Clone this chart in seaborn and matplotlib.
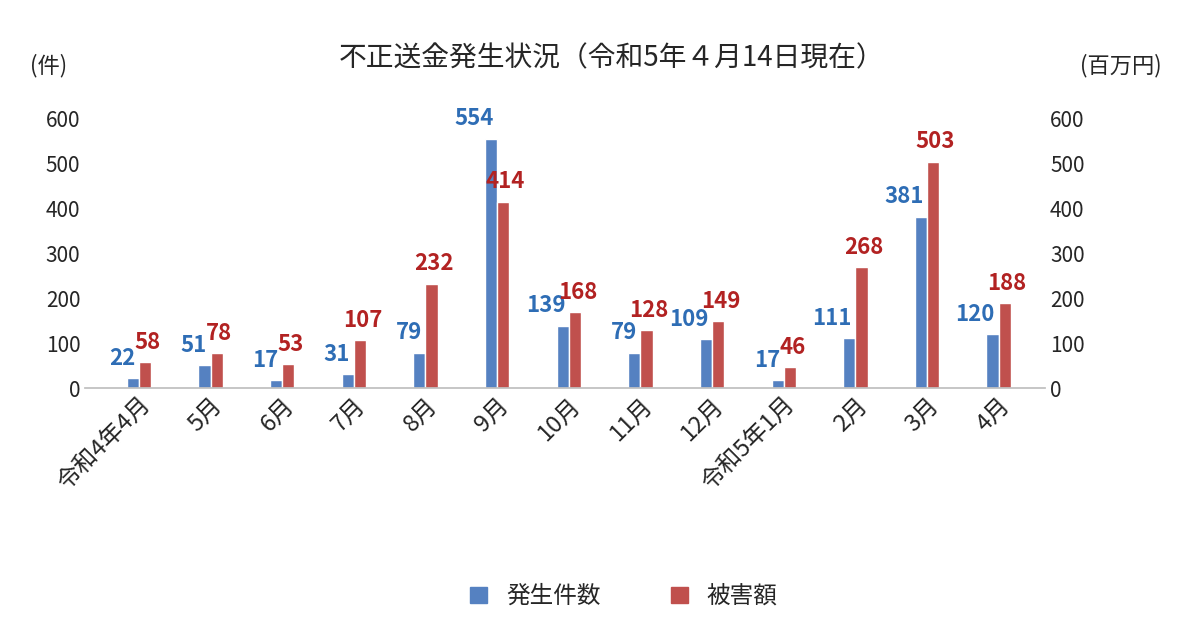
import matplotlib
matplotlib.use("Agg")
import matplotlib.pyplot as plt
import seaborn as sns
import pandas as pd

months = ["令和4年4月","5月","6月","7月","8月","9月","10月","11月","12月","令和5年1月","2月","3月","4月"]
counts = [22,51,17,31,79,554,139,79,109,17,111,381,120]
damage = [58,78,53,107,232,414,168,128,149,46,268,503,188]
series = ["発生件数","被害額"]
bar_colors = ["#5581C1","#C0504D"]
label_colors = ["#2E6DB5","#B22222"]

sns.set_theme(style="white")
plt.rcParams['font.family'] = ['Noto Sans CJK JP','DejaVu Sans']

df = pd.DataFrame({"month": months*2, "value": counts+damage,
                   "series": [series[0]]*len(months)+[series[1]]*len(months)})

fig = plt.figure(figsize=(12,6.28), dpi=100)
ax = fig.add_axes([0.071,0.382,0.80,0.43])
sns.barplot(data=df, x="month", y="value", hue="series", hue_order=series,
            palette=bar_colors, width=0.34, gap=0, ax=ax, saturation=1)
ax.set_ylim(0,600)
ax.set_xlim(-0.75, len(months)-0.35)
ax.set_yticks(range(0,601,100))
ax.tick_params(axis='y', labelsize=15, length=0)
ax.set_xlabel(""); ax.set_ylabel("")
ax.set_xticks(range(len(months)))
ax.set_xticklabels(months, rotation=45, ha='right', rotation_mode='anchor', fontsize=17)
ax.tick_params(axis='x', length=0, pad=4)
for s in ["top","right","left"]:
    ax.spines[s].set_visible(False)
ax.spines["bottom"].set_color("#BFBFBF")

ax2 = ax.twinx()
ax2.set_ylim(0,600)
ax2.set_yticks(range(0,601,100))
ax2.tick_params(axis='y', labelsize=15, length=0)
for s in ax2.spines.values():
    s.set_visible(False)

for i, cont in enumerate(ax.containers):
    for bar, v in zip(cont, [counts, damage][i]):
        if i == 0:
            x = bar.get_x() + bar.get_width()*0.7
            ha = 'right'
        else:
            x = bar.get_x() + bar.get_width()*0.7
            ha = 'center'
        ax.annotate(str(v), (x, v), xytext=(0, 6), textcoords='offset points',
                    ha=ha, va='bottom',
                    color=label_colors[i], fontsize=16, fontweight='bold')

ax.legend_.remove()
handles = [plt.Rectangle((0,0),1,1,color=c) for c in bar_colors]
fig.legend(handles, series, loc='center', bbox_to_anchor=(0.52,0.05), ncol=2,
           frameon=False, fontsize=17, handlelength=0.7, handleheight=0.7, columnspacing=3)

fig.text(0.51, 0.895, "不正送金発生状況（令和5年４月14日現在）", ha='center', fontsize=20)
fig.text(0.025, 0.885, "(件)", fontsize=16)
fig.text(0.90, 0.885, "(百万円)", fontsize=16)
fig.savefig("out.png", dpi=100)
